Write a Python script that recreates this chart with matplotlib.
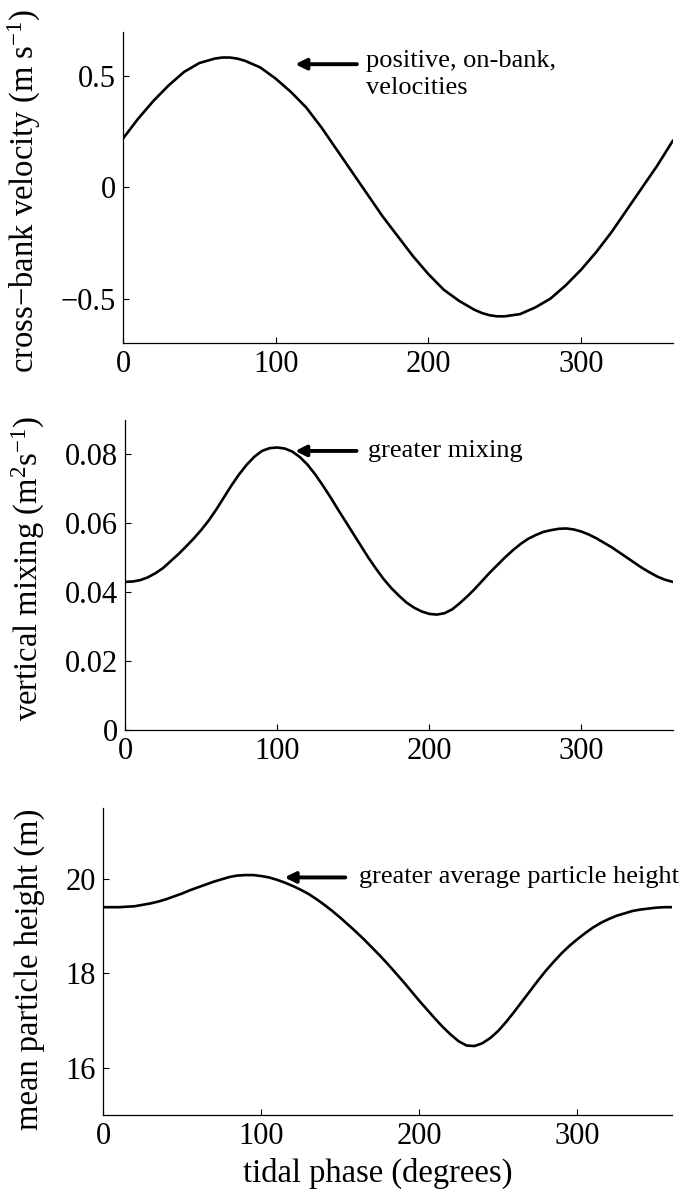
import matplotlib
matplotlib.use("Agg")
import matplotlib.pyplot as plt

plt.rcParams['font.family'] = ['Liberation Serif', 'DejaVu Serif']
plt.rcParams['mathtext.fontset'] = 'custom'
plt.rcParams['mathtext.rm'] = 'Liberation Serif'
plt.rcParams['mathtext.it'] = 'Liberation Serif:italic'

# tidal phase (degrees), every 5 degrees
phase = list(range(0, 361, 5))

velocity = [0.22, 0.265, 0.31, 0.35, 0.39, 0.425, 0.46, 0.49, 0.52, 0.54,
            0.56, 0.57, 0.58, 0.585, 0.585, 0.58, 0.57, 0.555, 0.54, 0.515,
            0.49, 0.46, 0.43, 0.395, 0.36, 0.315, 0.27, 0.22, 0.17, 0.12,
            0.07, 0.02, -0.03, -0.08, -0.13, -0.175, -0.22, -0.265, -0.31, -0.35,
            -0.39, -0.425, -0.46, -0.485, -0.51, -0.53, -0.55, -0.565, -0.575, -0.58,
            -0.58, -0.575, -0.57, -0.555, -0.54, -0.52, -0.50, -0.47, -0.44, -0.405,
            -0.37, -0.33, -0.29, -0.245, -0.20, -0.15, -0.10, -0.05, 0.00, 0.05,
            0.10, 0.155, 0.21]

mixing = [0.0430, 0.0431, 0.0435, 0.0443, 0.0455, 0.0470, 0.0490, 0.0510, 0.0532, 0.0555,
          0.0580, 0.0608, 0.0640, 0.0675, 0.0710, 0.0742, 0.0770, 0.0793, 0.0810, 0.0818,
          0.0820, 0.0817, 0.0808, 0.0792, 0.0770, 0.0742, 0.0710, 0.0676, 0.0640, 0.0605,
          0.0570, 0.0535, 0.0500, 0.0468, 0.0438, 0.0412, 0.0390, 0.0370, 0.0355, 0.0344,
          0.0337, 0.0335, 0.0339, 0.0350, 0.0368, 0.0388, 0.0410, 0.0434, 0.0458, 0.0480,
          0.0502, 0.0522, 0.0540, 0.0555, 0.0566, 0.0575, 0.0580, 0.0584, 0.0585, 0.0582,
          0.0576, 0.0567, 0.0556, 0.0543, 0.0530, 0.0515, 0.0500, 0.0485, 0.0470, 0.0457,
          0.0445, 0.0436, 0.0430]

height = [19.40, 19.40, 19.40, 19.41, 19.42, 19.45, 19.48, 19.52, 19.57, 19.63,
          19.69, 19.76, 19.82, 19.88, 19.94, 19.99, 20.04, 20.07, 20.08, 20.08,
          20.06, 20.03, 19.98, 19.92, 19.85, 19.77, 19.68, 19.57, 19.45, 19.32,
          19.18, 19.03, 18.88, 18.72, 18.55, 18.38, 18.20, 18.01, 17.82, 17.62,
          17.42, 17.23, 17.04, 16.86, 16.70, 16.56, 16.47, 16.46, 16.52, 16.63,
          16.78, 16.97, 17.18, 17.40, 17.62, 17.84, 18.05, 18.24, 18.42, 18.58,
          18.72, 18.85, 18.97, 19.07, 19.15, 19.22, 19.27, 19.32, 19.35, 19.37,
          19.39, 19.40, 19.40]

xticks = [0, 100, 200, 300]

fig = plt.figure(figsize=(6.83, 11.93), dpi=100)

ax1 = fig.add_axes([0.180, 0.7125, 0.805, 0.2607])
ax2 = fig.add_axes([0.183, 0.3881, 0.802, 0.2599])
ax3 = fig.add_axes([0.151, 0.0654, 0.833, 0.2573])

tick_size = 22
label_size = 23.5
note_size = 19
arrow = dict(arrowstyle='-|>', color='black', lw=2.8, mutation_scale=16)

def style(ax):
    ax.spines['top'].set_visible(False)
    ax.spines['right'].set_visible(False)
    ax.spines['left'].set_linewidth(0.9)
    ax.spines['bottom'].set_linewidth(0.9)
    ax.tick_params(direction='in', length=4, width=0.8, labelsize=tick_size, pad=5)
    ax.set_xlim(0, 360)
    ax.set_xticks(xticks)

# panel 1
ax1.plot(phase, velocity, color='black', lw=1.9)
style(ax1)
ax1.set_ylim(-0.7, 0.7)
ax1.set_yticks([-0.5, 0, 0.5])
ax1.set_yticklabels(['\u22120.5', '0', '0.5'])
ax1.set_ylabel('cross\u2212bank velocity (m s$^{-1}$)', fontsize=label_size)
ax1.yaxis.set_label_coords(-0.145, 0.49)
ax1.annotate('', xy=(111, 0.555), xytext=(155, 0.555), arrowprops=arrow)
ax1.text(159, 0.62, 'positive, on-bank,\nvelocities', fontsize=note_size,
         va='top', ha='left', linespacing=1.3)

# panel 2
ax2.plot(phase, mixing, color='black', lw=1.9)
style(ax2)
ax2.set_ylim(0, 0.09)
ax2.set_yticks([0, 0.02, 0.04, 0.06, 0.08])
ax2.set_yticklabels(['0', '0.02', '0.04', '0.06', '0.08'])
ax2.set_ylabel('vertical mixing (m$^2$s$^{-1}$)', fontsize=label_size)
ax2.yaxis.set_label_coords(-0.142, 0.52)
ax2.annotate('', xy=(110, 0.081), xytext=(154, 0.081), arrowprops=arrow)
ax2.text(160, 0.081, 'greater mixing', fontsize=note_size, va='center', ha='left')

# panel 3
ax3.plot(phase, height, color='black', lw=1.9)
style(ax3)
ax3.set_ylim(15, 21.5)
ax3.set_yticks([16, 18, 20])
ax3.set_ylabel('mean particle height (m)', fontsize=label_size)
ax3.yaxis.set_label_coords(-0.102, 0.475)
ax3.set_xlabel('tidal phase (degrees)', fontsize=label_size)
ax3.xaxis.set_label_coords(0.483, -0.14)
ax3.annotate('', xy=(113, 20.03), xytext=(155, 20.03), arrowprops=arrow)
ax3.text(162, 20.03, 'greater average particle height', fontsize=note_size,
         va='center', ha='left', clip_on=False)

fig.savefig('out.png', dpi=100)
